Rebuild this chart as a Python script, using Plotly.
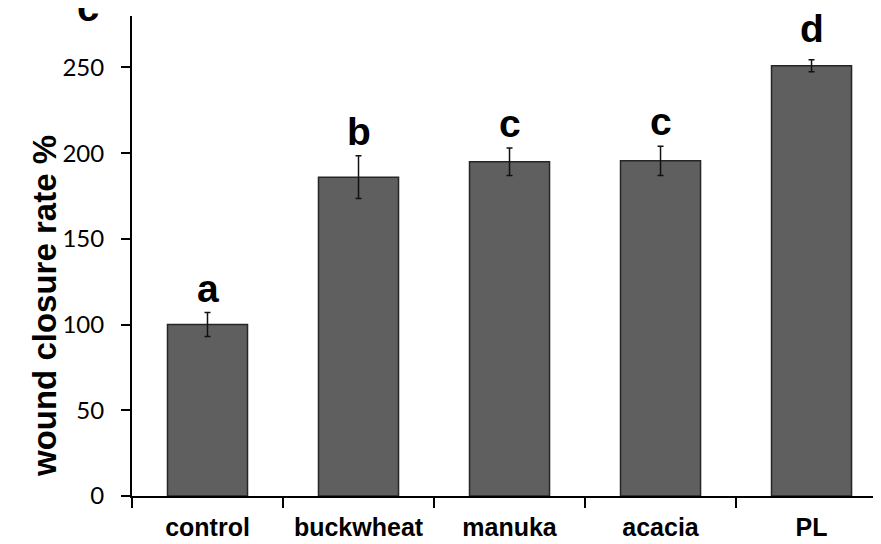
import plotly.graph_objects as go

categories = ["control", "buckwheat", "manuka", "acacia", "PL"]
values = [100, 186, 195, 195.5, 251]
errors = [7, 12.5, 8, 8.5, 3.5]
letters = ["a", "b", "c", "c", "d"]
y_ticks = [0, 50, 100, 150, 200, 250]

fig = go.Figure()
fig.add_trace(go.Bar(
    x=categories, y=values, width=0.53,
    marker=dict(color="#5f5f5f", line=dict(color="#262626", width=1.5)),
    error_y=dict(type="data", array=errors, visible=True, color="#111111",
                 thickness=1.5, width=3),
    showlegend=False,
))

for c, v, e, t in zip(categories, values, errors, letters):
    fig.add_annotation(x=c, y=v + e, text=f"<b>{t}</b>", showarrow=False,
                       yanchor="bottom", yshift=(8 if t == "d" else 1),
                       font=dict(family="Liberation Sans, Arial", size=39, color="#000000"))

# cropped panel label at top-left
fig.add_annotation(xref="paper", yref="paper", x=-0.0587, y=0.968, text="<b>c</b>",
                   showarrow=False, yanchor="bottom", xanchor="center",
                   font=dict(family="Liberation Sans, Arial", size=40, color="#000000"))

# y-axis title
fig.add_annotation(xref="paper", yref="paper", x=-0.116, y=0.396,
                   text="<b>wound closure rate %</b>", showarrow=False, textangle=-90,
                   xanchor="center", yanchor="middle",
                   font=dict(family="Liberation Sans, Arial", size=33, color="#000000"))

# the page body adds an 8px offset; size and margins compensate for it
fig.update_layout(
    width=873, height=536,
    margin=dict(l=124, r=0, t=8, b=48),
    plot_bgcolor="white", paper_bgcolor="white",
    bargap=0.47,
)
fig.update_xaxes(
    range=[-0.5, 4.46], showline=True, linecolor="black", linewidth=2,
    ticks="outside", tickson="boundaries", ticklen=10, tickwidth=2, tickcolor="black",
    tickfont=dict(family="Liberation Sans, Arial", size=25, color="#000000"),
    tickprefix="<b>", ticksuffix="</b>", showgrid=False, ticklabelstandoff=8,
)
fig.update_yaxes(
    range=[0, 280], tickvals=y_ticks, showline=True, linecolor="black", linewidth=2,
    ticks="outside", ticklen=9, tickwidth=2, tickcolor="black",
    tickfont=dict(family="Lato, Liberation Sans", size=24, color="#000000"),
    ticklabelstandoff=12, showgrid=False, zeroline=False,
)

fig.write_html("out.html")
